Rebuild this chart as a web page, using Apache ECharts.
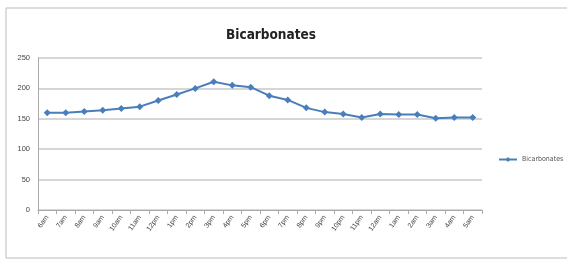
<!DOCTYPE html>
<html>
<head>
<meta charset="utf-8">
<script src="https://cdn.jsdelivr.net/npm/echarts@6/dist/echarts.min.js"></script>
<style>
  html, body { margin: 0; padding: 0; background: #fff; }
  #chart { width: 567px; height: 262px; }
</style>
</head>
<body>
<div id="chart"></div>
<script>
// 数据
const hours = ['6am', '7am', '8am', '9am', '10am', '11am', '12pm', '1pm', '2pm', '3pm', '4pm', '5pm',
  '6pm', '7pm', '8pm', '9pm', '10pm', '11pm', '12am', '1am', '2am', '3am', '4am', '5am'];
const bicarbonates = [160, 160, 162, 164, 167, 170, 180, 190, 200, 211, 205, 202,
  188, 181, 168, 161, 158, 152, 158, 157, 157, 151, 152, 152];
const yTicks = [0, 50, 100, 150, 200, 250];

const chart = echarts.init(document.getElementById('chart'));

chart.setOption({
  animation: false,
  title: {
    text: 'Bicarbonates',
    left: 266,
    top: 23,
    textAlign: 'center',
    textStyle: { fontFamily: 'DejaVu Sans Condensed, sans-serif', fontSize: 13.5, fontWeight: 'bold', color: '#222' }
  },
  legend: {
    orient: 'vertical',
    left: 493,
    top: 151,
    itemWidth: 18,
    itemHeight: 6,
    itemGap: 3,
    textStyle: { fontSize: 7, color: '#555', fontFamily: 'DejaVu Sans Condensed, sans-serif' },
    data: ['Bicarbonates']
  },
  grid: { left: 38, right: 85, top: 58, bottom: 52 },
  xAxis: {
    type: 'category',
    data: hours,
    boundaryGap: true,
    axisLine: { lineStyle: { color: '#aaa' } },
    axisTick: { show: true, alignWithLabel: false, length: 4, lineStyle: { color: '#aaa' } },
    axisLabel: { rotate: 55, fontSize: 7, color: '#444', margin: 6, interval: 0 }
  },
  yAxis: {
    type: 'value',
    min: yTicks[0],
    max: yTicks[yTicks.length - 1],
    interval: 50,
    axisLine: { show: true, lineStyle: { color: '#aaa' } },
    axisTick: { show: false },
    splitLine: { lineStyle: { color: '#c8c8c8', width: 1.5 } },
    axisLabel: { fontSize: 7.5, color: '#444', margin: 8 }
  },
  series: [{
    name: 'Bicarbonates',
    type: 'line',
    data: bicarbonates,
    symbol: 'diamond',
    symbolSize: 7,
    lineStyle: { color: '#4a7ebb', width: 2 },
    itemStyle: { color: '#4a7ebb' }
  }],
  graphic: [{
    type: 'rect',
    shape: { x: 6, y: 8, width: 570, height: 250 },
    style: { fill: 'none', stroke: '#bbb', lineWidth: 1 }
  }]
});
</script>
</body>
</html>
